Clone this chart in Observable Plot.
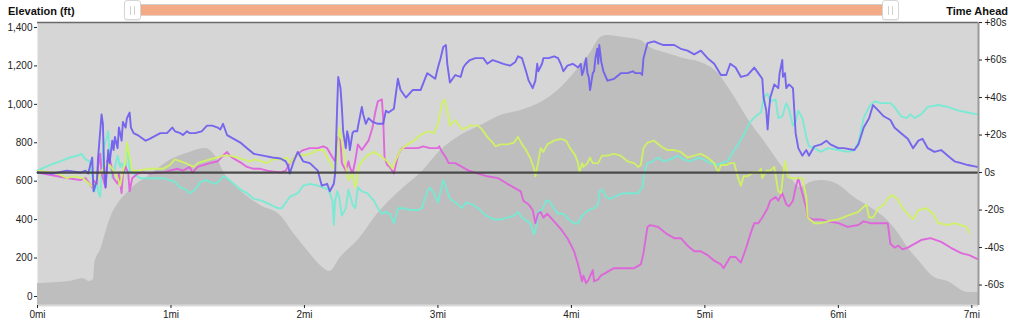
<!DOCTYPE html>
<html>
<head>
<meta charset="utf-8">
<script src="https://cdn.jsdelivr.net/npm/d3@7"></script>
<script src="https://cdn.jsdelivr.net/npm/@observablehq/plot@0.6"></script>
<style>
  html, body { margin: 0; padding: 0; background: #fff; }
  #wrap { position: relative; width: 1018px; height: 323px; font-family: "Liberation Sans", Arial, sans-serif; }
  #chart { position: absolute; left: 0; top: 0; }
  .hdr { position: absolute; font-weight: bold; font-size: 11px; color: #111; top: 5px; }
  #track { position: absolute; left: 133px; top: 4px; width: 757px; height: 10px; background: #f2aa87; border-top: 1px solid #cfcfcf; border-bottom: 1px solid #e9d0c4; }
  .handle { position: absolute; top: 0px; width: 15px; height: 18px; background: #fff; border: 1px solid #d6d6d6; border-radius: 3px; box-shadow: 0 1px 1px rgba(0,0,0,0.08); }
  .handle::before, .handle::after { content: ""; position: absolute; top: 5px; width: 1px; height: 9px; background: #d2d2d2; }
  .handle::before { left: 5px; }
  .handle::after { left: 9px; }
</style>
</head>
<body>
<div id="wrap">
  <div id="chart"></div>
  <div class="hdr" style="left:8px;">Elevation (ft)</div>
  <div class="hdr" style="right:10px;">Time Ahead</div>
  <div id="track"></div>
  <div class="handle" style="left:124px;"></div>
  <div class="handle" style="left:882px;"></div>
</div>
<script>
// ---- tick labels ----
const elevTicks = [0, 200, 400, 600, 800, 1000, 1200, 1400];
const timeTicks = [80, 60, 40, 20, 0, -20, -40, -60];
const mileTicks = [0, 1, 2, 3, 4, 5, 6, 7];

// ---- elevation profile [mile, ft] ----
const elevation = [[0.00,68],[0.24,78],[0.34,94],[0.39,78],[0.42,88],[0.43,177],[0.47,239],[0.54,396],[0.69,552],[0.84,630],[0.99,708],[1.14,750],[1.26,770],[1.33,734],[1.41,630],[1.52,552],[1.67,474],[1.82,422],[1.93,318],[2.04,224],[2.12,161],[2.19,130],[2.27,203],[2.40,291],[2.55,432],[2.72,552],[2.89,656],[3.02,760],[3.17,838],[3.32,890],[3.47,942],[3.62,968],[3.77,1010],[3.90,1072],[4.02,1161],[4.14,1265],[4.22,1348],[4.27,1358],[4.39,1348],[4.52,1332],[4.59,1296],[4.72,1265],[4.84,1239],[4.97,1218],[5.10,1161],[5.19,1072],[5.34,906],[5.44,812],[5.62,640],[5.72,567],[5.79,593],[5.87,604],[5.94,599],[6.02,573],[6.12,515],[6.24,463],[6.37,396],[6.45,328],[6.52,255],[6.62,172],[6.72,99],[6.82,78],[6.97,21],[7.05,21]];

// ---- time ahead series [mile, seconds] ----
const purple = [[0.00,0],[0.12,-0.5],[0.22,1],[0.32,0],[0.36,1],[0.38,-0.5],[0.41,8],[0.42,-10],[0.446,-4],[0.454,8],[0.48,31],[0.49,26],[0.50,-0.5],[0.51,-8],[0.53,12],[0.54,5],[0.56,17],[0.57,12],[0.58,19],[0.60,13],[0.61,24],[0.63,17],[0.64,27],[0.66,24],[0.67,29],[0.69,32],[0.70,24],[0.72,21],[0.75,20],[0.81,17],[0.84,18],[0.92,21],[0.97,21],[1.01,24],[1.03,22],[1.07,21],[1.09,20],[1.12,22],[1.14,21],[1.18,21],[1.23,22],[1.27,25],[1.31,25],[1.35,24],[1.37,23],[1.39,26],[1.42,20],[1.47,18],[1.52,16],[1.57,13],[1.62,10],[1.69,9],[1.76,8],[1.82,7.5],[1.86,6],[1.88,3],[1.89,-0.5],[1.92,6],[1.95,11],[1.99,6],[2.04,5],[2.10,1],[2.13,-7],[2.17,-6],[2.19,-10],[2.22,-6],[2.23,-0.5],[2.245,35],[2.253,51],[2.27,45],[2.28,35],[2.29,22],[2.31,13],[2.32,22],[2.33,19],[2.34,12],[2.36,21],[2.37,22],[2.395,22],[2.405,26],[2.43,35],[2.44,31],[2.46,26],[2.48,29],[2.51,27],[2.55,26],[2.59,26],[2.61,33],[2.63,32],[2.67,34],[2.70,50],[2.72,44],[2.76,40],[2.81,44],[2.87,44],[2.92,53],[2.94,52],[2.98,50],[3.00,56],[3.02,61],[3.04,67],[3.06,68],[3.07,58],[3.09,48],[3.11,50],[3.13,52],[3.17,51],[3.19,56],[3.21,58],[3.24,60],[3.28,61],[3.32,61],[3.34,61],[3.37,58],[3.41,60],[3.45,59],[3.49,58],[3.54,57],[3.58,59],[3.60,62],[3.63,61],[3.66,54],[3.68,49],[3.71,45],[3.73,49],[3.744,58],[3.752,54],[3.78,58],[3.79,61],[3.83,61],[3.87,62],[3.90,61],[3.92,58],[3.94,54],[3.97,57],[4.01,58],[4.05,56],[4.07,58],[4.08,52],[4.09,54],[4.11,61],[4.12,53],[4.13,51],[4.14,44],[4.16,53],[4.17,54],[4.18,61],[4.194,66],[4.201,58],[4.209,68],[4.224,59],[4.24,54],[4.27,49],[4.32,50],[4.37,53],[4.42,53],[4.46,54],[4.48,53],[4.52,53],[4.53,52],[4.54,61],[4.57,69],[4.62,70],[4.65,69],[4.69,68],[4.77,68],[4.82,66],[4.87,65],[4.92,63],[4.97,65],[5.02,61],[5.07,58],[5.12,52],[5.16,52],[5.19,58],[5.23,56],[5.27,51],[5.32,52],[5.37,56],[5.40,53],[5.43,50],[5.44,40],[5.46,33],[5.47,23],[5.48,33],[5.49,40],[5.52,47],[5.55,45],[5.56,53],[5.58,60],[5.585,51],[5.60,53],[5.61,45],[5.63,47],[5.66,45],[5.67,33],[5.68,21],[5.70,13],[5.73,9],[5.76,12],[5.78,9],[5.82,14],[5.87,15],[5.91,17],[5.94,15],[6.00,13],[6.04,13],[6.12,12],[6.15,15],[6.19,24],[6.23,29],[6.26,36],[6.30,33],[6.34,30],[6.39,28],[6.42,24],[6.47,21],[6.52,18],[6.56,13],[6.60,17],[6.63,18],[6.67,13],[6.72,11],[6.77,12],[6.82,9],[6.87,6],[6.92,5],[6.97,4],[7.04,3]];

const magenta = [[0.00,0],[0.15,-2],[0.22,-3],[0.32,-4],[0.36,-3],[0.39,-6],[0.41,-8],[0.42,-4],[0.446,-6],[0.454,3],[0.47,10],[0.48,-0.5],[0.51,-8],[0.52,6],[0.54,8],[0.57,-3],[0.60,-6],[0.61,-0.5],[0.63,-11],[0.64,-0.5],[0.66,3],[0.68,-0.5],[0.69,-10],[0.71,-3],[0.75,-0.5],[0.79,0],[0.84,-0.5],[0.90,0],[0.94,0],[0.99,1],[1.05,2],[1.09,1],[1.14,3],[1.16,0],[1.20,3],[1.24,4],[1.29,5],[1.35,6],[1.39,9],[1.42,11],[1.44,9],[1.48,7],[1.53,5],[1.57,3],[1.62,2],[1.67,2],[1.72,1],[1.77,0.5],[1.82,0],[1.86,1],[1.89,5],[1.95,10],[1.99,12],[2.04,13],[2.10,13],[2.14,14],[2.17,13],[2.21,8],[2.23,6],[2.25,19],[2.27,17],[2.28,5],[2.31,1],[2.33,6],[2.34,3],[2.36,-0.5],[2.38,6],[2.40,15],[2.43,12],[2.46,15],[2.48,17],[2.51,24],[2.53,32],[2.55,38],[2.58,39],[2.59,29],[2.60,8],[2.62,4],[2.64,3],[2.67,-0.5],[2.70,9],[2.73,13],[2.79,13],[2.85,13],[2.89,14],[2.94,13],[3.00,13],[3.01,14],[3.03,11],[3.06,8],[3.08,5],[3.13,5],[3.18,3],[3.23,1],[3.30,-0.5],[3.37,-2],[3.45,-3],[3.52,-6],[3.57,-8],[3.62,-10],[3.64,-15],[3.68,-17],[3.71,-20],[3.73,-27],[3.75,-22],[3.77,-21],[3.79,-24],[3.82,-22],[3.87,-26],[3.92,-30],[3.97,-35],[4.02,-42],[4.05,-49],[4.07,-55],[4.08,-58],[4.09,-55],[4.11,-59],[4.13,-57],[4.16,-52],[4.17,-58],[4.20,-57],[4.22,-55],[4.27,-53],[4.32,-51],[4.37,-51],[4.42,-51],[4.47,-51],[4.52,-49],[4.54,-43],[4.57,-29],[4.59,-28],[4.65,-29],[4.72,-33],[4.77,-35],[4.82,-35],[4.87,-39],[4.92,-42],[4.97,-42],[5.02,-44],[5.07,-47],[5.12,-49],[5.14,-51],[5.19,-45],[5.23,-45],[5.27,-48],[5.31,-40],[5.34,-33],[5.37,-27],[5.40,-27],[5.43,-24],[5.47,-19],[5.49,-15],[5.53,-13],[5.55,-15],[5.58,-11],[5.61,-17],[5.63,-18],[5.66,-15],[5.68,-8],[5.70,-3],[5.73,-11],[5.76,-19],[5.77,-24],[5.81,-25],[5.87,-25],[5.92,-26],[6.00,-27],[6.07,-29],[6.15,-28],[6.19,-26],[6.24,-27],[6.37,-27],[6.39,-38],[6.42,-40],[6.45,-39],[6.48,-41],[6.52,-40],[6.57,-38],[6.62,-36],[6.69,-35],[6.77,-37],[6.84,-40],[6.92,-43],[6.98,-44],[7.04,-46]];

const lime = [[0.00,1],[0.15,-0.5],[0.22,-3],[0.27,-2],[0.34,-3],[0.42,-8],[0.45,-4],[0.47,-0.5],[0.49,2],[0.52,5],[0.54,4],[0.57,1],[0.60,-3],[0.62,-7],[0.64,1],[0.66,6],[0.67,16],[0.69,8],[0.71,1],[0.75,1],[0.84,2],[0.94,2],[0.99,4],[1.03,7],[1.07,6],[1.11,5],[1.14,4],[1.17,3],[1.20,5],[1.24,6],[1.29,7],[1.35,8],[1.39,9],[1.44,9],[1.50,8],[1.54,7],[1.59,6],[1.63,7],[1.68,6],[1.72,5],[1.76,7],[1.80,7],[1.83,7],[1.87,8],[1.89,5],[1.95,10],[1.99,9],[2.04,10],[2.10,12],[2.14,12],[2.18,7],[2.22,2],[2.245,6],[2.26,24],[2.28,17],[2.31,3],[2.33,-4],[2.36,-0.5],[2.38,-8],[2.395,-4],[2.405,3],[2.43,6],[2.47,9],[2.52,11],[2.57,9],[2.62,6],[2.66,2],[2.68,6],[2.72,12],[2.77,15],[2.82,17],[2.87,20],[2.92,22],[2.97,21],[3.00,26],[3.03,37],[3.05,39],[3.07,33],[3.09,25],[3.13,28],[3.17,24],[3.19,23],[3.24,25],[3.30,25],[3.33,23],[3.37,19],[3.41,16],[3.43,14],[3.47,15],[3.52,15],[3.57,16],[3.60,19],[3.63,15],[3.66,12],[3.69,8],[3.72,2],[3.73,-2],[3.75,5],[3.77,13],[3.79,11],[3.82,15],[3.87,17],[3.92,18],[3.96,17],[3.99,13],[4.03,9],[4.05,5],[4.06,0],[4.08,5],[4.09,3],[4.12,5],[4.14,8],[4.16,5],[4.20,5],[4.23,9],[4.27,9],[4.32,10],[4.37,9],[4.42,6],[4.47,5],[4.50,3],[4.52,4],[4.54,13],[4.57,16],[4.62,17],[4.67,14],[4.72,12],[4.77,12],[4.82,11],[4.87,8],[4.92,9],[4.97,10],[5.02,8],[5.07,5],[5.10,0],[5.12,4],[5.16,4],[5.19,5],[5.22,5],[5.25,-3],[5.27,-7],[5.29,-2],[5.32,-2],[5.36,0],[5.40,0],[5.42,2],[5.43,-3],[5.46,1],[5.49,1],[5.52,3],[5.55,-10],[5.57,-11],[5.59,1],[5.60,6],[5.62,-2],[5.64,-3],[5.70,-3],[5.73,-3],[5.76,-13],[5.77,-24],[5.82,-27],[5.87,-27],[5.92,-26],[6.00,-25],[6.07,-23],[6.15,-21],[6.18,-19],[6.21,-17],[6.23,-24],[6.26,-24],[6.30,-19],[6.34,-17],[6.38,-13],[6.41,-12],[6.45,-15],[6.48,-19],[6.52,-22],[6.56,-25],[6.60,-20],[6.66,-19],[6.71,-22],[6.75,-27],[6.82,-28],[6.87,-27],[6.92,-28],[6.96,-29],[6.98,-32]];

const cyan = [[0.00,1],[0.09,4],[0.17,6],[0.24,8],[0.30,9],[0.33,10],[0.36,7],[0.39,6],[0.42,-6],[0.43,-10],[0.446,-4],[0.454,-10],[0.47,-13],[0.48,-0.5],[0.49,12],[0.52,19],[0.53,22],[0.54,8],[0.56,-3],[0.58,3],[0.60,9],[0.62,3],[0.63,5],[0.66,-0.5],[0.67,15],[0.68,12],[0.69,1],[0.72,-0.5],[0.77,-3],[0.82,-3],[0.90,-3],[0.94,-3],[0.99,-4],[1.03,-5],[1.07,-8],[1.11,-9],[1.14,-11],[1.18,-9],[1.22,-5],[1.26,-4],[1.29,-5],[1.33,-6],[1.37,-4],[1.39,-2],[1.42,-3],[1.47,-6],[1.52,-9],[1.57,-11],[1.62,-14],[1.68,-15],[1.74,-17],[1.80,-19],[1.83,-19],[1.86,-16],[1.89,-13],[1.95,-11],[1.99,-7],[2.04,-6],[2.10,-7],[2.14,-8],[2.18,-9],[2.21,-15],[2.22,-28],[2.23,-15],[2.245,-10],[2.26,-13],[2.28,-23],[2.31,-19],[2.33,-9],[2.36,-17],[2.38,-19],[2.40,-8],[2.43,-10],[2.47,-11],[2.52,-15],[2.55,-19],[2.58,-22],[2.61,-21],[2.64,-22],[2.67,-27],[2.70,-19],[2.74,-19],[2.79,-20],[2.85,-20],[2.88,-19],[2.92,-10],[2.94,-8],[2.97,-11],[3.00,-16],[3.02,-10],[3.04,-4],[3.07,-10],[3.09,-14],[3.15,-17],[3.18,-19],[3.21,-16],[3.26,-17],[3.30,-19],[3.36,-23],[3.42,-25],[3.47,-25],[3.52,-24],[3.57,-23],[3.60,-21],[3.63,-24],[3.67,-26],[3.69,-27],[3.72,-33],[3.74,-28],[3.75,-21],[3.78,-20],[3.81,-15],[3.83,-15],[3.87,-19],[3.90,-22],[3.94,-22],[3.98,-25],[4.02,-27],[4.05,-27],[4.08,-23],[4.11,-21],[4.13,-20],[4.17,-19],[4.20,-17],[4.21,-10],[4.23,-9],[4.26,-13],[4.29,-14],[4.35,-12],[4.39,-11],[4.44,-11],[4.50,-11],[4.53,-8],[4.55,1],[4.57,5],[4.61,6],[4.65,8],[4.69,6],[4.74,7],[4.80,9],[4.84,7],[4.89,6],[4.95,8],[4.99,7],[5.04,5],[5.10,4],[5.12,5],[5.17,6],[5.22,12],[5.25,15],[5.29,20],[5.34,27],[5.38,30],[5.42,32],[5.44,40],[5.47,42],[5.49,38],[5.53,39],[5.55,29],[5.58,30],[5.61,37],[5.63,34],[5.66,25],[5.68,27],[5.70,33],[5.73,29],[5.76,19],[5.78,14],[5.82,13],[5.87,11],[5.92,13],[6.00,12],[6.07,11],[6.12,12],[6.15,16],[6.19,29],[6.23,35],[6.27,38],[6.32,37],[6.39,37],[6.42,35],[6.47,30],[6.51,29],[6.54,31],[6.57,29],[6.62,31],[6.67,35],[6.75,36],[6.82,35],[6.90,33],[6.97,32],[7.04,31]];

// series keys are plain ids (not CSS colour names) so the ordinal colour scale applies
const seriesNames = ["runner A", "runner B", "runner C", "runner D"];
const seriesColors = ["#72ecd4", "#e05fdc", "#cff35f", "#6c5cef"];
const seriesData = [cyan, magenta, lime, purple];

// ---- scales: time ahead is drawn on the elevation axis ----
const elevDomain = [-47, 1426];
const zeroSecFt = 645;     // elevation level where 0s sits
const ftPerSec = 9.76;     // seconds -> elevation units
const secToFt = s => zeroSecFt + ftPerSec * s;

const lineRows = [];
seriesData.forEach((arr, k) => arr.forEach(([mi, s]) => lineRows.push({name: seriesNames[k], mi, y: secToFt(s)})));
const elevRows = elevation.map(([mi, ft]) => ({mi, ft}));

const chart = Plot.plot({
  width: 1018,
  height: 323,
  marginTop: 22,
  marginBottom: 18,
  marginLeft: 37,
  marginRight: 40,
  x: {domain: [0, 7.05]},
  y: {domain: elevDomain},
  color: {type: "ordinal", domain: seriesNames, range: seriesColors},
  style: {fontFamily: "'Liberation Sans', Arial, sans-serif", fontSize: "10px", color: "#222", background: "transparent", overflow: "visible"},
  marks: [
    Plot.frame({fill: "#d6d6d6", stroke: null}),
    Plot.areaY(elevRows, {x: "mi", y1: elevDomain[0], y2: "ft", fill: "#bebebe", curve: "monotone-x"}),
    Plot.line(lineRows, {x: "mi", y: "y", z: "name", stroke: "name", strokeWidth: 1.9, strokeOpacity: 0.92}),
    Plot.ruleY([secToFt(0)], {stroke: "#3d3d3d", strokeWidth: 2.2, strokeOpacity: 0.9}),
    Plot.ruleY([elevDomain[1]], {stroke: "#6a6a6a", strokeWidth: 1.5}),
    Plot.ruleY([elevDomain[0]], {stroke: "#dadada", strokeWidth: 2}),
    Plot.ruleX([7.05], {stroke: "#9a9a9a", strokeWidth: 2}),
    Plot.axisY({anchor: "left", ticks: elevTicks, tickFormat: d3.format(","), tickSize: 3, tickPadding: 2, label: null}),
    Plot.axisY({anchor: "right", ticks: timeTicks.map(secToFt), tickFormat: (d, i) => { const s = timeTicks[i]; return (s > 0 ? "+" : "") + s + "s"; }, tickSize: 3, tickPadding: 3, label: null}),
    Plot.axisX({ticks: mileTicks, tickFormat: d => d + "mi", tickSize: 3, tickPadding: 2, label: null})
  ]
});
document.getElementById("chart").appendChild(chart);
</script>
</body>
</html>
